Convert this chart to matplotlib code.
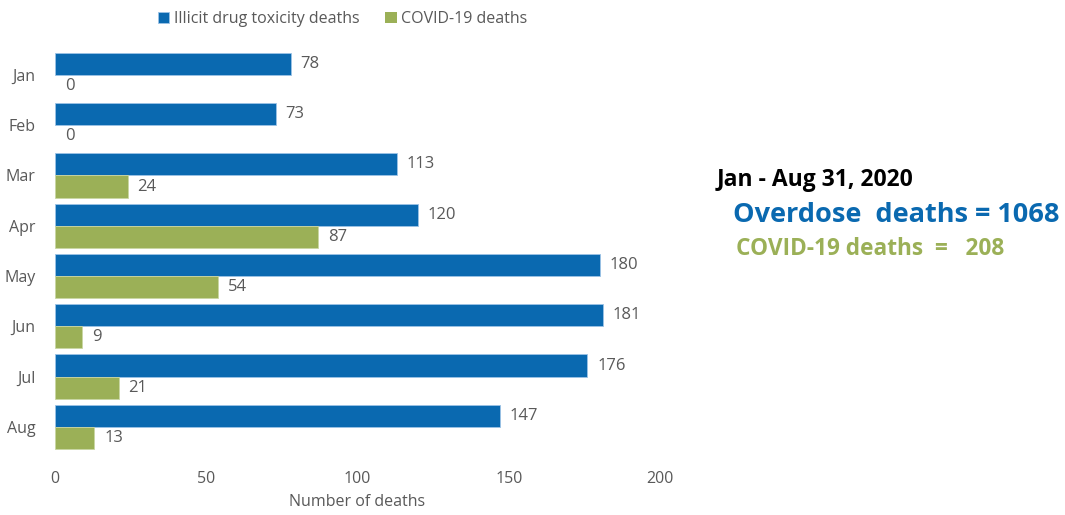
import numpy as np
import matplotlib.pyplot as plt

months = ["Jan", "Feb", "Mar", "Apr", "May", "Jun", "Jul", "Aug"]
overdose = [78, 73, 113, 120, 180, 181, 176, 147]
covid = [0, 0, 24, 87, 54, 9, 21, 13]

blue = "#0A69B0"
green = "#9BB057"
grey = "#595959"

plt.rcParams['font.family'] = ['Open Sans', 'DejaVu Sans']

fig = plt.figure(figsize=(10.65, 5.15), dpi=100)
ax = fig.add_axes([55 / 1065, 1 - 457 / 515, 605 / 1065, (457 - 44.8) / 515])

y = np.arange(len(months))
h = 0.44
b1 = ax.barh(y - h / 2, overdose, height=h, color=blue, edgecolor="#9DC3E6", linewidth=0.6,
             label="Illicit drug toxicity deaths")
# no outline on empty bars
edge2 = ["#C9D6A3" if v > 0 else "none" for v in covid]
b2 = ax.barh(y + h / 2, covid, height=h, color=green, edgecolor=edge2, linewidth=0.6,
             label="COVID-19 deaths")

# value labels right of each bar
for bars in (b1, b2):
    ax.bar_label(bars, padding=7, fontsize=12, color=grey)

ax.set_xlim(0, 200)
ax.set_ylim(len(months) - 0.4, -0.6)
ax.set_yticks(y)
ax.set_yticklabels(months)
ax.set_xticks([0, 50, 100, 150, 200])
ax.tick_params(length=0, labelsize=11.5, labelcolor=grey)
ax.tick_params(axis="x", pad=10)
ax.tick_params(axis="y", pad=14)
for s in ax.spines.values():
    s.set_visible(False)
ax.set_xlabel("Number of deaths", fontsize=11.5, color=grey, labelpad=5)

fig.legend(handles=[b1, b2], loc="center", bbox_to_anchor=(343 / 1065, 1 - 19 / 515),
           ncol=2, frameon=False, fontsize=11.5, labelcolor=grey, handlelength=0.7,
           handleheight=0.7, handletextpad=0.3, columnspacing=1.6)

fig.text(717 / 1065, 1 - 180 / 515, "Jan - Aug 31, 2020", fontsize=16.5, fontweight="bold",
         color="black", va="center")
fig.text(733 / 1065, 1 - 215 / 515, "Overdose  deaths = 1068", fontsize=19.5, fontweight="bold",
         color=blue, va="center")
fig.text(736 / 1065, 1 - 249 / 515, "COVID-19 deaths  =   208", fontsize=16.3, fontweight="bold",
         color=green, va="center")

fig.savefig("out.png", dpi=100)
